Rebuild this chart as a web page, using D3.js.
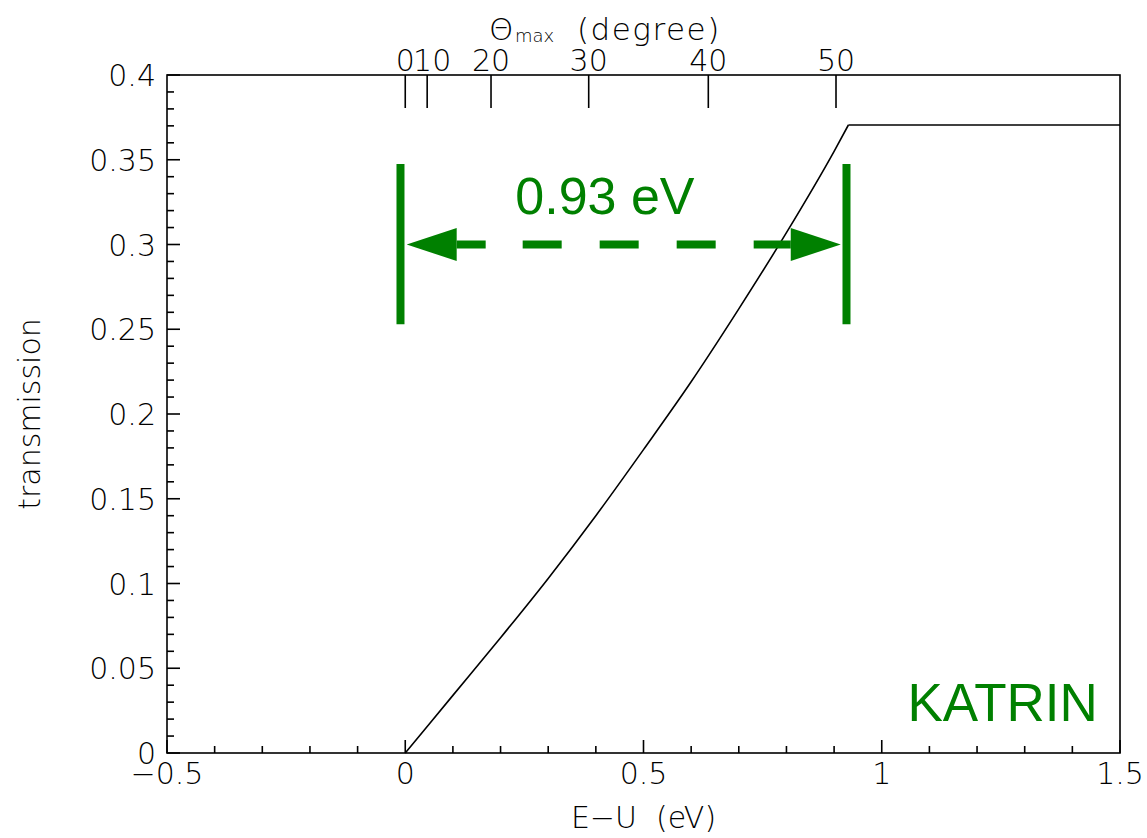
<!DOCTYPE html>
<html>
<head>
<meta charset="utf-8">
<script src="https://cdn.jsdelivr.net/npm/d3@7/dist/d3.min.js"></script>
<style>
  html, body { margin: 0; padding: 0; background: #fff; }
  svg { display: block; }
  .lbl { font-family: "DejaVu Sans", sans-serif; font-weight: 200; fill: #000; }
</style>
</head>
<body>
<svg id="chart" width="1147" height="838"></svg>
<script>
// ---- data ----
const energy = [0, 0.1, 0.2, 0.3, 0.4, 0.5, 0.6, 0.7, 0.8, 0.9, 0.93];           // E-U (eV), rising part
const transmission = [0, 0.034, 0.068, 0.103, 0.140, 0.179, 0.219, 0.262, 0.307, 0.355, 0.3705];
const plateauE = [0.93, 1.5];
const plateauT = [0.3705, 0.3705];
const xTicks = [-0.5, 0, 0.5, 1, 1.5];
const xTickLabels = ["\u22120.5", "0", "0.5", "1", "1.5"];
const yTicks = [0, 0.05, 0.1, 0.15, 0.2, 0.25, 0.3, 0.35, 0.4];
const yTickLabels = ["0", "0.05", "0.1", "0.15", "0.2", "0.25", "0.3", "0.35", "0.4"];
const thetaTickPos = [0, 0.046, 0.18, 0.385, 0.636, 0.904];   // E-U position of each angle tick
const thetaTickLabels = ["0", "10", "20", "30", "40", "50"];
const widthValue = ["0.93 eV"];
const experiment = ["KATRIN"];
const bracketE = [-0.01, 0.926];     // green vertical bars
const bracketT = [0.253, 0.3475];
const arrowE = [0.003, 0.914];       // arrow tips
const arrowT = [0.3];

// ---- layout ----
const svg = d3.select("#chart");
const L = 167, R = 1120, T = 75, B = 753;
const x = d3.scaleLinear().domain([-0.5, 1.5]).range([L, R]);
const y = d3.scaleLinear().domain([0, 0.4]).range([B, T]);
const green = "#008000";
const fs = 30;

// frame
svg.append("rect").attr("x", L).attr("y", T).attr("width", R - L).attr("height", B - T)
  .attr("fill", "none").attr("stroke", "#000").attr("stroke-width", 1.6);

// bottom axis
const xMinor = d3.range(-0.5, 1.5001, 0.1).map(v => +v.toFixed(2));
const gx = svg.append("g").attr("transform", `translate(0,${B})`);
gx.selectAll("line.t").data(xMinor).enter().append("line")
  .attr("x1", d => x(d)).attr("x2", d => x(d))
  .attr("y1", 0).attr("y2", d => (Math.abs(d * 2 - Math.round(d * 2)) < 1e-6) ? -13 : -7)
  .attr("stroke", "#000").attr("stroke-width", 1.6);
gx.selectAll("text").data(xTicks).enter().append("text").attr("class", "lbl")
  .attr("x", d => x(d)).attr("y", 31).attr("text-anchor", "middle")
  .attr("font-size", fs).text((d, i) => xTickLabels[i]);

// left axis
const yMinor = d3.range(0, 0.40001, 0.01).map(v => +v.toFixed(3));
const gy = svg.append("g").attr("transform", `translate(${L},0)`);
gy.selectAll("line.t").data(yMinor).enter().append("line")
  .attr("y1", d => y(d)).attr("y2", d => y(d))
  .attr("x1", 0).attr("x2", d => (Math.abs(d * 20 - Math.round(d * 20)) < 1e-6) ? 13 : 7)
  .attr("stroke", "#000").attr("stroke-width", 1.6);
gy.selectAll("text").data(yTicks).enter().append("text").attr("class", "lbl")
  .attr("x", -11).attr("y", d => y(d) + 11).attr("text-anchor", "end")
  .attr("font-size", fs).text((d, i) => yTickLabels[i]);

// top (angle) axis
const gt = svg.append("g").attr("transform", `translate(0,${T})`);
gt.selectAll("line").data(thetaTickPos).enter().append("line")
  .attr("x1", d => x(d)).attr("x2", d => x(d)).attr("y1", 0).attr("y2", 33)
  .attr("stroke", "#000").attr("stroke-width", 1.6);
gt.selectAll("text").data(thetaTickPos).enter().append("text").attr("class", "lbl")
  .attr("x", d => x(d)).attr("dx", (d, i) => i === 1 ? 5 : 0).attr("y", -4)
  .attr("text-anchor", "middle")
  .attr("font-size", fs).text((d, i) => thetaTickLabels[i]);

// axis titles
svg.append("text").attr("class", "lbl").attr("x", (L + R) / 2).attr("y", 828)
  .attr("text-anchor", "middle").attr("font-size", fs)
  .attr("xml:space", "preserve").text("E\u2212U  (eV)");
svg.append("text").attr("class", "lbl")
  .attr("transform", `translate(40,${(T + B) / 2}) rotate(-90)`)
  .attr("text-anchor", "middle").attr("font-size", fs).text("transmission");
const tt = svg.append("text").attr("class", "lbl").attr("y", 40).attr("font-size", 31);
tt.append("tspan").attr("x", 489).text("\u0398");
tt.append("tspan").attr("x", 515).attr("font-size", 18).attr("dy", 2).text("max");
tt.append("tspan").attr("x", 577).attr("dy", -2).attr("letter-spacing", 1.5).text("(degree)");

// transmission curve
svg.append("path")
  .datum(energy.map((e, i) => [e, transmission[i]]))
  .attr("fill", "none").attr("stroke", "#000").attr("stroke-width", 1.6)
  .attr("d", d3.line().curve(d3.curveMonotoneX).x(d => x(d[0])).y(d => y(d[1])));
svg.append("path")
  .datum(plateauE.map((e, i) => [e, plateauT[i]]))
  .attr("fill", "none").attr("stroke", "#000").attr("stroke-width", 1.6)
  .attr("d", d3.line().x(d => x(d[0])).y(d => y(d[1])));

// green annotation
const g = svg.append("g");
bracketE.forEach(e => {
  g.append("line").attr("x1", x(e)).attr("x2", x(e))
    .attr("y1", y(bracketT[0])).attr("y2", y(bracketT[1]))
    .attr("stroke", green).attr("stroke-width", 8);
});
const ay = y(arrowT[0]), headL = 50, headH = 16.5;
const xl = x(arrowE[0]), xr = x(arrowE[1]);
g.append("line").attr("x1", xl + headL).attr("x2", xr - headL).attr("y1", ay).attr("y2", ay)
  .attr("stroke", green).attr("stroke-width", 8)
  .attr("stroke-dasharray", "29,37,39,38,39,38,39,38,40");
g.append("polygon").attr("fill", green)
  .attr("points", `${xl},${ay} ${xl + headL},${ay - headH} ${xl + headL},${ay + headH}`);
g.append("polygon").attr("fill", green)
  .attr("points", `${xr},${ay} ${xr - headL},${ay - headH} ${xr - headL},${ay + headH}`);
g.append("text").attr("x", x(0.419)).attr("y", y(0.318)).attr("text-anchor", "middle")
  .attr("font-family", "Liberation Sans, Arial, sans-serif").attr("font-size", 52)
  .attr("fill", green).text(widthValue[0]);
g.append("text").attr("x", x(1.4535)).attr("y", y(0.0189)).attr("text-anchor", "end")
  .attr("font-family", "Liberation Sans, Arial, sans-serif").attr("font-size", 53)
  .attr("fill", green).text(experiment[0]);
</script>
</body>
</html>
